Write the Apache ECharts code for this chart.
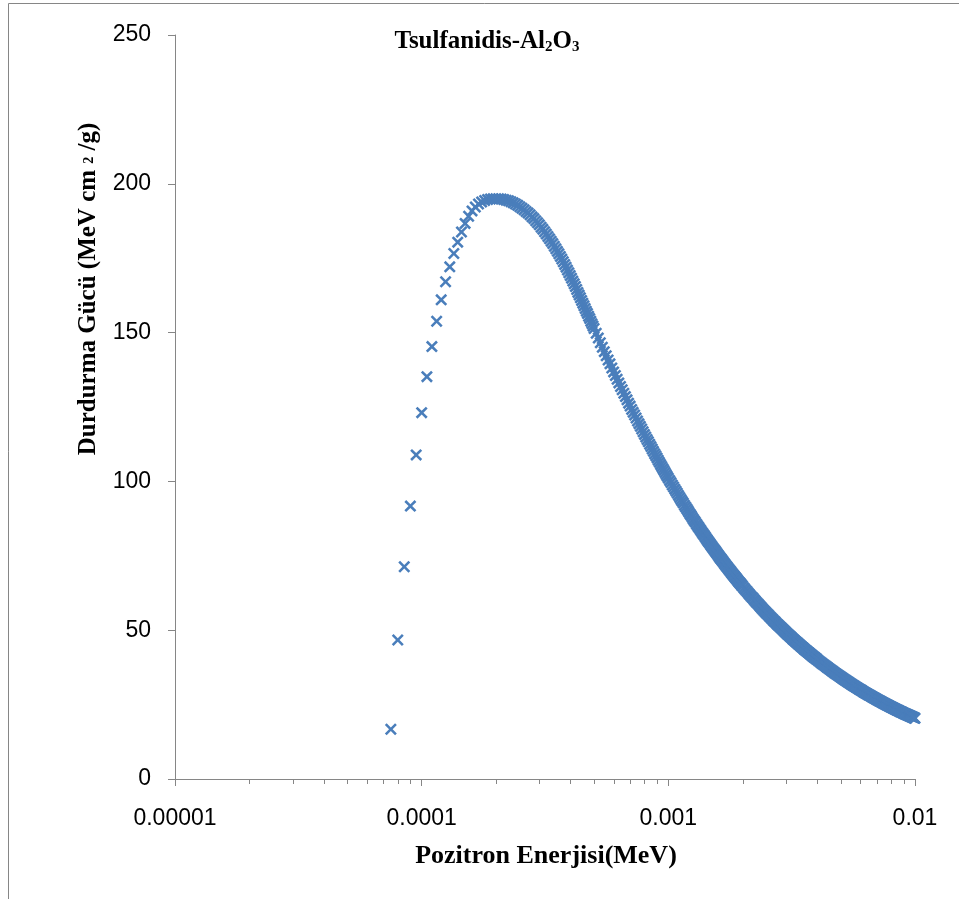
<!DOCTYPE html>
<html><head><meta charset="utf-8">
<script src="https://cdn.jsdelivr.net/npm/echarts@6/dist/echarts.min.js"></script>
<style>html,body{margin:0;padding:0;background:#fff}#c{width:959px;height:899px}</style>
</head><body><div id="c"></div>
<script>
// Positron energy (MeV)
const energy = [
7.5e-5,8e-5,8.5e-5,9e-5,9.5e-5,
1e-4,1.05e-4,1.1e-4,1.15e-4,1.2e-4,1.25e-4,1.3e-4,1.35e-4,1.4e-4,1.45e-4,1.5e-4,1.55e-4,1.6e-4,1.65e-4,1.7e-4,1.75e-4,1.8e-4,1.85e-4,1.9e-4,1.95e-4,
2e-4,2.05e-4,2.1e-4,2.15e-4,2.2e-4,2.25e-4,2.3e-4,2.35e-4,2.4e-4,2.45e-4,2.5e-4,2.55e-4,2.6e-4,2.65e-4,2.7e-4,2.75e-4,2.8e-4,2.85e-4,2.9e-4,2.95e-4,
3e-4,3.05e-4,3.1e-4,3.15e-4,3.2e-4,3.25e-4,3.3e-4,3.35e-4,3.4e-4,3.45e-4,3.5e-4,3.55e-4,3.6e-4,3.65e-4,3.7e-4,3.75e-4,3.8e-4,3.85e-4,3.9e-4,3.95e-4,
4e-4,4.05e-4,4.1e-4,4.15e-4,4.2e-4,4.25e-4,4.3e-4,4.35e-4,4.4e-4,4.45e-4,4.5e-4,4.55e-4,4.6e-4,4.65e-4,4.7e-4,4.75e-4,4.8e-4,4.85e-4,4.9e-4,4.95e-4,
5e-4,5.1e-4,5.2e-4,5.3e-4,5.4e-4,5.5e-4,5.6e-4,5.7e-4,5.8e-4,5.9e-4,6e-4,
6.1e-4,6.2e-4,6.3e-4,6.4e-4,6.5e-4,6.6e-4,6.7e-4,6.8e-4,6.9e-4,7e-4,
7.1e-4,7.2e-4,7.3e-4,7.4e-4,7.5e-4,7.6e-4,7.7e-4,7.8e-4,7.9e-4,8e-4,
8.1e-4,8.2e-4,8.3e-4,8.4e-4,8.5e-4,8.6e-4,8.7e-4,8.8e-4,8.9e-4,9e-4,
9.1e-4,9.2e-4,9.3e-4,9.4e-4,9.5e-4,9.6e-4,9.7e-4,9.8e-4,9.9e-4,1e-3,
1.0125e-3,1.025e-3,1.0375e-3,1.05e-3,1.0625e-3,1.075e-3,1.0875e-3,1.1e-3,1.1125e-3,1.125e-3,
1.1375e-3,1.15e-3,1.1625e-3,1.175e-3,1.1875e-3,1.2e-3,1.2125e-3,1.225e-3,1.2375e-3,1.25e-3,
1.2625e-3,1.275e-3,1.2875e-3,1.3e-3,1.3125e-3,1.325e-3,1.3375e-3,1.35e-3,1.3625e-3,1.375e-3,
1.3875e-3,1.4e-3,1.4125e-3,1.425e-3,1.4375e-3,1.45e-3,1.4625e-3,1.475e-3,1.4875e-3,1.5e-3,
1.5125e-3,1.525e-3,1.5375e-3,1.55e-3,1.5625e-3,1.575e-3,1.5875e-3,1.6e-3,1.6125e-3,1.625e-3,
1.6375e-3,1.65e-3,1.6625e-3,1.675e-3,1.6875e-3,1.7e-3,1.7125e-3,1.725e-3,1.7375e-3,1.75e-3,
1.7625e-3,1.775e-3,1.7875e-3,1.8e-3,1.8125e-3,1.825e-3,1.8375e-3,1.85e-3,1.8625e-3,1.875e-3,
1.8875e-3,1.9e-3,1.9125e-3,1.925e-3,1.9375e-3,1.95e-3,1.9625e-3,1.975e-3,1.9875e-3,2e-3,
2.025e-3,2.05e-3,2.075e-3,2.1e-3,2.125e-3,2.15e-3,2.175e-3,2.2e-3,2.225e-3,2.25e-3,
2.275e-3,2.3e-3,2.325e-3,2.35e-3,2.375e-3,2.4e-3,2.425e-3,2.45e-3,2.475e-3,2.5e-3,
2.525e-3,2.55e-3,2.575e-3,2.6e-3,2.625e-3,2.65e-3,2.675e-3,2.7e-3,2.725e-3,2.75e-3,
2.775e-3,2.8e-3,2.825e-3,2.85e-3,2.875e-3,2.9e-3,2.925e-3,2.95e-3,2.975e-3,3e-3,
3.025e-3,3.05e-3,3.075e-3,3.1e-3,3.125e-3,3.15e-3,3.175e-3,3.2e-3,3.225e-3,3.25e-3,
3.275e-3,3.3e-3,3.325e-3,3.35e-3,3.375e-3,3.4e-3,3.425e-3,3.45e-3,3.475e-3,3.5e-3,
3.525e-3,3.55e-3,3.575e-3,3.6e-3,3.625e-3,3.65e-3,3.675e-3,3.7e-3,3.725e-3,3.75e-3,
3.775e-3,3.8e-3,3.825e-3,3.85e-3,3.875e-3,3.9e-3,3.925e-3,3.95e-3,3.975e-3,4e-3,
4.05e-3,4.1e-3,4.15e-3,4.2e-3,4.25e-3,4.3e-3,4.35e-3,4.4e-3,4.45e-3,4.5e-3,
4.55e-3,4.6e-3,4.65e-3,4.7e-3,4.75e-3,4.8e-3,4.85e-3,4.9e-3,4.95e-3,5e-3,
5.05e-3,5.1e-3,5.15e-3,5.2e-3,5.25e-3,5.3e-3,5.35e-3,5.4e-3,5.45e-3,5.5e-3,
5.55e-3,5.6e-3,5.65e-3,5.7e-3,5.75e-3,5.8e-3,5.85e-3,5.9e-3,5.95e-3,6e-3,
6.05e-3,6.1e-3,6.15e-3,6.2e-3,6.25e-3,6.3e-3,6.35e-3,6.4e-3,6.45e-3,6.5e-3,
6.55e-3,6.6e-3,6.65e-3,6.7e-3,6.75e-3,6.8e-3,6.85e-3,6.9e-3,6.95e-3,7e-3,
7.05e-3,7.1e-3,7.15e-3,7.2e-3,7.25e-3,7.3e-3,7.35e-3,7.4e-3,7.45e-3,7.5e-3,
7.55e-3,7.6e-3,7.65e-3,7.7e-3,7.75e-3,7.8e-3,7.85e-3,7.9e-3,7.95e-3,8e-3,
8.05e-3,8.1e-3,8.15e-3,8.2e-3,8.25e-3,8.3e-3,8.35e-3,8.4e-3,8.45e-3,8.5e-3,
8.55e-3,8.6e-3,8.65e-3,8.7e-3,8.75e-3,8.8e-3,8.85e-3,8.9e-3,8.95e-3,9e-3,
9.05e-3,9.1e-3,9.15e-3,9.2e-3,9.25e-3,9.3e-3,9.35e-3,9.4e-3,9.45e-3,9.5e-3,
9.55e-3,9.6e-3,9.65e-3,9.7e-3,9.75e-3,9.8e-3,9.85e-3,9.9e-3,9.95e-3,1e-2
];
// Stopping power (MeV cm2/g)
const stoppingPower = [
16.7,46.7,71.3,91.7,108.9,
123.1,135.2,145.3,153.8,161.0,167.1,172.1,176.6,180.4,183.8,186.7,189.1,190.9,192.2,193.2,193.9,194.4,194.7,194.9,195.0,
195.0,195.0,194.9,194.7,194.5,194.3,194.0,193.6,193.2,192.8,192.3,191.8,191.3,190.7,190.2,189.6,188.9,188.3,187.6,186.9,
186.2,185.4,184.7,183.9,183.1,182.3,181.5,180.7,179.9,179.0,178.2,177.3,176.5,175.6,174.7,173.8,172.9,172.0,171.0,170.1,
169.2,168.3,167.3,166.4,165.5,164.5,163.5,162.6,161.7,160.8,159.9,159.0,158.1,157.2,156.4,155.5,154.7,153.8,153.0,152.2,
151.4,149.8,148.2,146.6,145.1,143.6,142.2,140.8,139.5,138.1,136.8,
135.6,134.3,133.1,131.9,130.8,129.6,128.5,127.4,126.3,125.3,
124.2,123.2,122.3,121.3,120.3,119.4,118.5,117.6,116.7,115.8,
114.9,114.1,113.3,112.5,111.7,110.9,110.1,109.3,108.6,107.9,
107.1,106.4,105.7,105.0,104.3,103.7,103.0,102.3,101.7,101.1,
100.3,99.6,98.8,98.1,97.4,96.7,96.0,95.3,94.6,93.9,
93.3,92.7,92.0,91.4,90.8,90.2,89.6,89.0,88.5,87.9,
87.3,86.8,86.3,85.7,85.2,84.7,84.2,83.7,83.2,82.7,
82.2,81.8,81.3,80.8,80.4,79.9,79.5,79.1,78.6,78.2,
77.8,77.4,77.0,76.6,76.2,75.8,75.4,75.0,74.6,74.2,
73.9,73.5,73.2,72.8,72.4,72.1,71.7,71.4,71.1,70.7,
70.4,70.1,69.8,69.4,69.1,68.8,68.5,68.2,67.9,67.6,
67.3,67.0,66.7,66.4,66.1,65.9,65.6,65.3,65.0,64.8,
64.2,63.7,63.2,62.7,62.2,61.7,61.2,60.8,60.3,59.9,
59.4,59.0,58.6,58.1,57.7,57.3,56.9,56.5,56.1,55.7,
55.4,55.0,54.6,54.3,53.9,53.6,53.2,52.9,52.6,52.2,
51.9,51.6,51.3,51.0,50.7,50.4,50.1,49.8,49.5,49.2,
48.9,48.6,48.4,48.1,47.8,47.6,47.3,47.0,46.8,46.5,
46.3,46.0,45.8,45.6,45.3,45.1,44.9,44.6,44.4,44.2,
44.0,43.7,43.5,43.3,43.1,42.9,42.7,42.5,42.3,42.1,
41.9,41.7,41.5,41.3,41.1,40.9,40.8,40.6,40.4,40.2,
39.86,39.51,39.17,38.83,38.51,38.19,37.87,37.56,37.26,36.96,
36.67,36.38,36.10,35.82,35.55,35.28,35.02,34.76,34.51,34.26,
34.01,33.77,33.53,33.30,33.07,32.84,32.61,32.39,32.17,31.96,
31.75,31.54,31.34,31.14,30.94,30.74,30.55,30.36,30.17,29.98,
29.80,29.62,29.44,29.27,29.09,28.92,28.75,28.59,28.42,28.26,
28.10,27.94,27.78,27.63,27.48,27.33,27.18,27.03,26.88,26.74,
26.60,26.46,26.32,26.19,26.05,25.92,25.78,25.65,25.52,25.40,
25.27,25.15,25.02,24.90,24.78,24.66,24.54,24.42,24.30,24.19,
24.08,23.97,23.85,23.74,23.63,23.53,23.42,23.31,23.21,23.11,
23.00,22.90,22.80,22.70,22.60,22.50,22.40,22.31,22.21,22.12,
22.03,21.94,21.84,21.75,21.66,21.57,21.48,21.40,21.31,21.22,
21.14,21.06,20.97,20.89,20.80,20.72,20.64,20.56,20.48,20.41
];
const xTickLabels = ['0.00001', '0.0001', '0.001', '0.01'];
const minorTicks = [2e-5,3e-5,4e-5,5e-5,6e-5,7e-5,8e-5,9e-5,
  2e-4,3e-4,4e-4,5e-4,6e-4,7e-4,8e-4,9e-4,
  2e-3,3e-3,4e-3,5e-3,6e-3,7e-3,8e-3,9e-3];
const chartTitle = 'Tsulfanidis-Al{s|2}O{s|3}';
const xTitle = 'Pozitron Enerjisi(MeV)';
const yTitle = 'Durdurma Gücü (MeV cm {p|2} /g)';

const axisGrey = '#868686';
const serif = '"Liberation Serif", "Times New Roman", serif';
const sans = '"Liberation Sans", Arial, sans-serif';
const xMarker = 'path://M0,1.5L1.5,0L5,3.5L8.5,0L10,1.5L6.5,5L10,8.5L8.5,10L5,6.5L1.5,10L0,8.5L3.5,5Z';

const chart = echarts.init(document.getElementById('c'), null, {renderer: 'canvas'});
chart.setOption({
  animation: false,
  backgroundColor: '#ffffff',
  grid: {left: 175, top: 35, right: 44, bottom: 120, containLabel: false, outerBoundsMode: 'none'},
  xAxis: {
    type: 'log', logBase: 10, min: 1e-5, max: 1e-2,
    axisLine: {show: true, lineStyle: {color: axisGrey, width: 1}},
    axisTick: {show: true, inside: false, length: 7, lineStyle: {color: axisGrey}},
    minorTick: {show: false},
    splitLine: {show: false},
    axisLabel: {margin: 28, color: '#000', fontFamily: sans, fontSize: 23, showMinLabel: true, showMaxLabel: true,
      formatter: v => xTickLabels[Math.round(Math.log10(v)) + 5]}
  },
  yAxis: {
    type: 'value', min: 0, max: 250, interval: 50,
    axisLine: {show: true, lineStyle: {color: axisGrey, width: 1}},
    axisTick: {show: true, inside: false, length: 7, lineStyle: {color: axisGrey}},
    splitLine: {show: false},
    axisLabel: {margin: 24, color: '#000', fontFamily: sans, fontSize: 23, showMinLabel: true, showMaxLabel: true}
  },
  series: [
    {
      type: 'custom',
      silent: true,
      z: 1,
      data: minorTicks.map(v => [v, 0]),
      renderItem: (params, api) => {
        const p = api.coord([api.value(0), api.value(1)]);
        const x = Math.round(p[0]) + 0.5;
        return {type: 'line', shape: {x1: x, y1: p[1], x2: x, y2: p[1] + 5},
          style: {stroke: axisGrey, lineWidth: 1}};
      }
    },
    {
      type: 'scatter',
      data: energy.map((e, i) => [e, stoppingPower[i]]),
      symbol: xMarker,
      symbolSize: 12,
      itemStyle: {color: '#4A7EBB', opacity: 1},
      emphasis: {disabled: true},
      large: false,
      z: 3
    }
  ],
  graphic: [
    {type: 'rect', silent: true, z: -10, shape: {x: 8.5, y: 3.5, width: 1200, height: 1200},
      style: {fill: 'none', stroke: axisGrey, lineWidth: 1}},
    {type: 'text', x: 487, y: 42, silent: true,
      style: {text: chartTitle, fill: '#000', fontFamily: serif, fontWeight: 'bold', fontSize: 25,
        align: 'center', verticalAlign: 'middle',
        rich: {s: {fontFamily: serif, fontWeight: 'bold', fontSize: 15, fill: '#000', verticalAlign: 'bottom'}}}},
    {type: 'text', x: 546, y: 856, silent: true,
      style: {text: xTitle, fill: '#000', fontFamily: serif, fontWeight: 'bold', fontSize: 26,
        align: 'center', verticalAlign: 'middle'}},
    {type: 'text', x: 89, y: 289, rotation: Math.PI / 2, silent: true,
      style: {text: yTitle, fill: '#000', fontFamily: serif, fontWeight: 'bold', fontSize: 25,
        align: 'center', verticalAlign: 'middle',
        rich: {p: {fontFamily: serif, fontWeight: 'bold', fontSize: 14, fill: '#000'}}}}
  ]
});
</script>
</body></html>
